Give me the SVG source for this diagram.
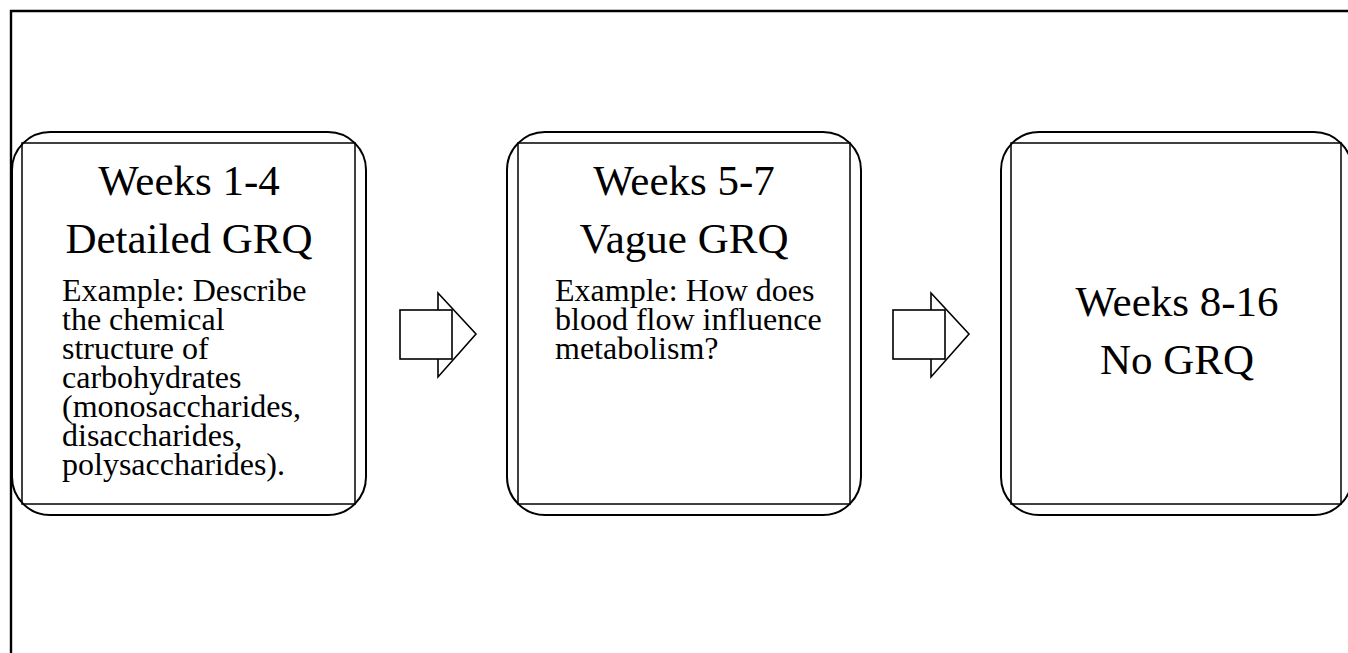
<svg xmlns="http://www.w3.org/2000/svg" width="1348" height="653" viewBox="0 0 1348 653">
<style>
.outer{fill:none;stroke:#000;stroke-width:2}
.inner{fill:none;stroke:#000;stroke-width:1.5}
.arrow{fill:#fff;stroke:#000;stroke-width:1.6;stroke-linejoin:miter}
.big{font-family:"Liberation Serif","Times New Roman",serif;font-size:43px;fill:#000;text-anchor:middle}
.small{font-family:"Liberation Serif","Times New Roman",serif;font-size:32px;fill:#000}
</style>
<rect width="1348" height="653" fill="#fff"/>
<path d="M11,653 V11 H1348" fill="none" stroke="#000" stroke-width="2.4"/>
<g id="box1">
<rect class="outer" x="12" y="132" width="354" height="383" rx="38" ry="38"/>
<rect class="inner" x="22" y="143" width="333" height="361"/>
<text class="big" x="189" y="195">Weeks 1-4</text>
<text class="big" x="189" y="253">Detailed GRQ</text>
<text class="small" x="62" y="301">Example: Describe</text>
<text class="small" x="62" y="330">the chemical</text>
<text class="small" x="62" y="359">structure of</text>
<text class="small" x="62" y="388">carbohydrates</text>
<text class="small" x="62" y="417">(monosaccharides,</text>
<text class="small" x="62" y="446">disaccharides,</text>
<text class="small" x="62" y="475">polysaccharides).</text>
</g>
<g id="box2">
<rect class="outer" x="507" y="132" width="354" height="383" rx="38" ry="38"/>
<rect class="inner" x="518" y="143" width="332" height="361"/>
<text class="big" x="684" y="195">Weeks 5-7</text>
<text class="big" x="684" y="253">Vague GRQ</text>
<text class="small" x="555" y="301">Example: How does</text>
<text class="small" x="555" y="330">blood flow influence</text>
<text class="small" x="555" y="359">metabolism?</text>
</g>
<g id="box3">
<rect class="outer" x="1001" y="132" width="351" height="383" rx="38" ry="38"/>
<rect class="inner" x="1011" y="143" width="330" height="361"/>
<text class="big" x="1177" y="316">Weeks 8-16</text>
<text class="big" x="1177" y="374">No GRQ</text>
</g>
<g id="connectors">
<path class="arrow" d="M438,293 L476,334 L438,377 Z"/>
<rect class="arrow" x="400" y="310" width="52" height="49"/>
<path class="arrow" d="M931,293 L969,334 L931,377 Z"/>
<rect class="arrow" x="893" y="310" width="52" height="49"/>
</g>
</svg>
